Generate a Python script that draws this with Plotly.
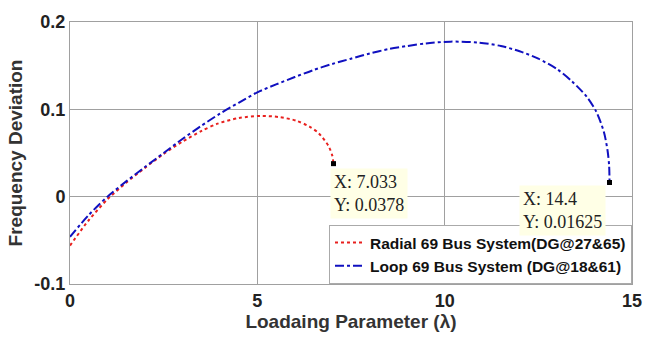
import plotly.graph_objects as go

loop_x = [0, 0.5, 1.0, 1.5, 2.0, 2.5, 3.0, 3.5, 4.0, 4.5, 5.0, 5.5, 6.0, 6.5, 7.0, 7.5, 8.0, 8.5, 9.0, 9.5, 10.15, 10.9, 11.5, 12.0, 12.5, 13.0, 13.4, 13.8, 14.05, 14.25, 14.35, 14.39, 14.4]
loop_y = [-0.046, -0.021, 0.0, 0.0175, 0.034, 0.050, 0.066, 0.081, 0.095, 0.1075, 0.1195, 0.1285, 0.137, 0.145, 0.152, 0.158, 0.164, 0.169, 0.1725, 0.1755, 0.1775, 0.1765, 0.1725, 0.1665, 0.158, 0.146, 0.132, 0.114, 0.097, 0.074, 0.052, 0.035, 0.01625]

radial_x = [0, 0.5, 1.0, 1.5, 2.0, 2.5, 3.0, 3.5, 3.94, 4.5, 5.1, 5.6, 6.04, 6.4, 6.64, 6.9, 7.0, 7.033]
radial_y = [-0.056, -0.027, -0.003, 0.016, 0.033, 0.049, 0.063, 0.075, 0.0836, 0.090, 0.0925, 0.091, 0.087, 0.080, 0.0725, 0.058, 0.047, 0.0378]

x_ticks = [0, 5, 10, 15]
y_ticks = [-0.1, 0, 0.1, 0.2]
y_tick_labels = ["-0.1", "0", "0.1", "0.2"]

tips = [(7.033, 0.0378, "X: 7.033<br>Y: 0.0378"), (14.4, 0.01625, "X: 14.4<br>Y: 0.01625")]
tip_pos = [(6.93, 0.0334), (11.98, 0.0134)]

fig = go.Figure()
fig.add_trace(go.Scatter(x=radial_x, y=radial_y, mode="lines", line=dict(color="#e8201e", width=2, dash="dot", shape="spline", smoothing=0.8),
                         name="Radial 69 Bus System(DG@27&65)"))
fig.add_trace(go.Scatter(x=loop_x, y=loop_y, mode="lines", line=dict(color="#1010c0", width=2, dash="dashdot", shape="spline", smoothing=0.8),
                         name="Loop 69 Bus System (DG@18&61)"))
fig.add_trace(go.Scatter(x=[t[0] for t in tips], y=[t[1] for t in tips], mode="markers",
                         marker=dict(color="black", size=5, symbol="square"), showlegend=False))

for (tx, ty, txt), (ax, ay) in zip(tips, tip_pos):
    fig.add_annotation(x=ax, y=ay, xref="x", yref="y", text=txt, showarrow=False, xanchor="left", yanchor="top",
                       align="left", bgcolor="#ffffe6", borderpad=3,
                       font=dict(family="Liberation Serif", size=18, color="#222"))

fig.update_layout(
    width=654, height=347, margin=dict(l=70, r=13, t=15, b=63),
    paper_bgcolor="white", plot_bgcolor="white",
    showlegend=True,
    legend=dict(x=1, y=0, xanchor="right", yanchor="bottom", bgcolor="white", bordercolor="#aaa", borderwidth=1,
                font=dict(family="Liberation Sans", size=15.5, color="#111", weight="bold"),
                itemwidth=30, tracegroupgap=0),
    font=dict(family="Liberation Sans"),
)
fig.update_xaxes(range=[0, 15], tickvals=x_ticks, showgrid=True, gridcolor="#a0a0a0", gridwidth=1,
                 showline=True, linecolor="#a0a0a0", mirror=True, zeroline=False, ticks="",
                 tickfont=dict(size=18, color="#222", weight="bold"),
                 title=dict(text="Loadaing Parameter (λ)", font=dict(size=19, color="#333", weight="bold"), standoff=5))
fig.update_yaxes(range=[-0.1, 0.2], tickvals=y_ticks, ticktext=y_tick_labels, showgrid=True, gridcolor="#a0a0a0", gridwidth=1,
                 showline=True, linecolor="#a0a0a0", mirror=True, zeroline=False, ticks="",
                 tickfont=dict(size=18, color="#222", weight="bold"),
                 title=dict(text="Frequency Deviation", font=dict(size=19, color="#333", weight="bold"), standoff=6))

fig.write_html("out.html")
